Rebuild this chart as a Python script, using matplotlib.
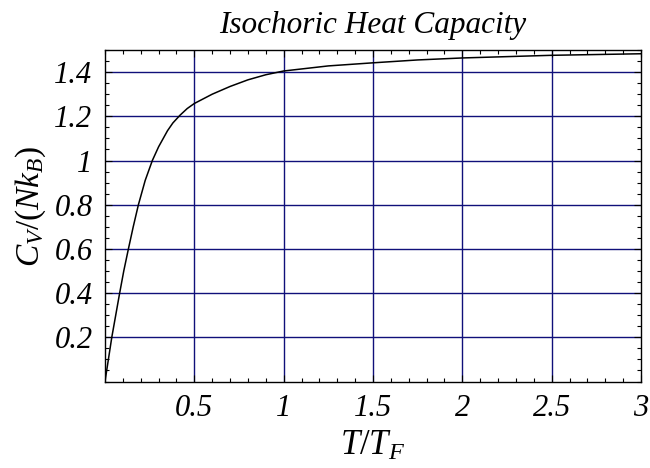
import numpy as np
import matplotlib.pyplot as plt
from matplotlib.ticker import MultipleLocator, FixedLocator, FixedFormatter

plt.rcParams['font.family'] = ['Liberation Serif']
plt.rcParams['mathtext.fontset'] = 'custom'
plt.rcParams['mathtext.rm'] = 'Liberation Serif'
plt.rcParams['mathtext.it'] = 'Liberation Serif:italic'

# heat capacity of the ideal Fermi gas, read point by point
t_ratio = [0, 0.019, 0.038, 0.06, 0.082, 0.105, 0.131, 0.158, 0.187, 0.225,
           0.265, 0.30, 0.35, 0.38, 0.42, 0.46, 0.5, 0.6, 0.7, 0.8, 0.9, 1.0,
           1.25, 1.5, 1.75, 2.0, 2.5, 3.0]
cv = [0, 0.10, 0.20, 0.30, 0.40, 0.50, 0.60, 0.70, 0.80, 0.91,
      1.0, 1.062, 1.135, 1.17, 1.205, 1.235, 1.258, 1.30, 1.335, 1.365, 1.388,
      1.405, 1.428, 1.442, 1.455, 1.464, 1.476, 1.483]

x_ticks = [0.5, 1, 1.5, 2, 2.5, 3]
x_labels = ['0.5', '1', '1.5', '2', '2.5', '3']
y_ticks = [0.2, 0.4, 0.6, 0.8, 1.0, 1.2, 1.4]
y_labels = ['0.2', '0.4', '0.6', '0.8', '1', '1.2', '1.4']

fig = plt.figure(figsize=(6.5, 4.68), dpi=100)
ax = fig.add_axes([105 / 650, 1 - 381.5 / 468, 536 / 650, 331.5 / 468])

grid_col = '#10107a'
for xv in x_ticks[:-1]:
    ax.axvline(xv, color=grid_col, lw=1.0, zorder=1)
for yv in y_ticks:
    ax.axhline(yv, color=grid_col, lw=1.0, zorder=1)

ax.plot(t_ratio, cv, color='black', lw=1.1, zorder=3)

ax.set_xlim(0, 3)
ax.set_ylim(0, 1.5)

ax.xaxis.set_major_locator(FixedLocator(x_ticks))
ax.xaxis.set_major_formatter(FixedFormatter(x_labels))
ax.xaxis.set_minor_locator(MultipleLocator(0.1))
ax.yaxis.set_major_locator(FixedLocator(y_ticks))
ax.yaxis.set_major_formatter(FixedFormatter(y_labels))
ax.yaxis.set_minor_locator(MultipleLocator(0.05))

ax.tick_params(which='both', direction='in', top=True, right=True, width=0.8)
ax.tick_params(which='major', length=5, labelsize=22)
ax.tick_params(axis='x', which='major', pad=9)
ax.tick_params(axis='y', which='major', pad=9)
ax.tick_params(which='minor', length=3)
for lab in ax.get_xticklabels() + ax.get_yticklabels():
    lab.set_fontstyle('italic')

for sp in ax.spines.values():
    sp.set_linewidth(1.0)

ax.set_title('Isochoric Heat Capacity', fontsize=22.5, fontstyle='italic', pad=12)
ax.set_xlabel('$T/T_F$', fontsize=25, labelpad=5)
ax.set_ylabel('$C_V/(Nk_B)$', fontsize=24)
ax.yaxis.set_label_coords(-0.106, 0.53)

fig.savefig('out.png', dpi=100)
